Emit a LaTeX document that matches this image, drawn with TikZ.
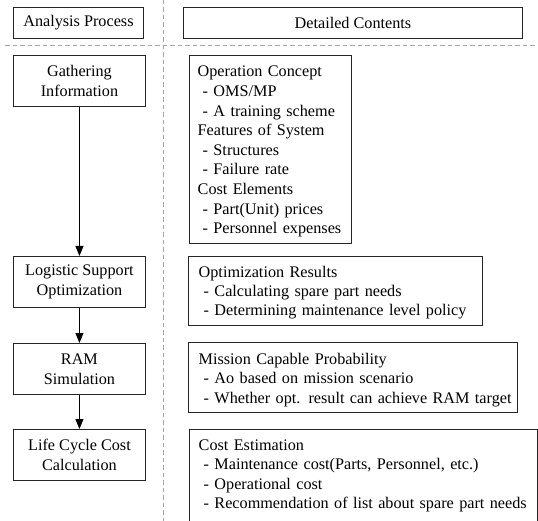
\documentclass[tikz,border=0pt]{standalone}
\usepackage{fontspec}
\setmainfont{Liberation Serif}
\usetikzlibrary{arrows.meta}
\newcommand\dashind{\hspace*{5pt}}
\begin{document}
\begin{tikzpicture}[x=1pt,y=-1pt,
  box/.style={draw=black!85, line width=0.9pt, inner sep=0pt, anchor=north west,
    align=center, font=\fontsize{16.2}{19.6}\selectfont},
  txt/.style={anchor=base west, inner sep=0pt, text width=335pt, align=left,
    font=\fontsize{16.2}{19.6}\selectfont},
  sep/.style={draw=black!35, line width=0.8pt, dash pattern=on 4.5pt off 3pt},
  arr/.style={draw=black, line width=0.9pt, -{Triangle[width=8pt,length=10pt]}}]
\useasboundingbox (0,0) rectangle (538,521);
\begin{scope}
\clip (0,0) rectangle (538,521);
% separators
\coordinate (vt) at (163,0);
\coordinate (vb) at (163,521);
\coordinate (hl) at (5,45);
\coordinate (hr) at (538,45);
\draw[sep] (vt) -- (vb);
\draw[sep] (hl) -- (hr);
% headers
\node[box, minimum width=130pt, minimum height=31pt] (hA) at (13,7) {Analysis Process};
\node[box, minimum width=339pt, minimum height=31pt] (hD) at (183,7) {Detailed Contents};
% process boxes
\node[box, minimum width=132pt, minimum height=51pt] (g) at (13,55) {Gathering\\Information};
\node[box, minimum width=132pt, minimum height=51pt] (l) at (13,256) {Logistic Support\\Optimization};
\node[box, minimum width=132pt, minimum height=51pt] (r) at (13,343) {RAM\\Simulation};
\node[box, minimum width=132pt, minimum height=51pt] (c) at (13,429) {Life Cycle Cost\\Calculation};
\draw[arr] (g) -- (l);
\draw[arr] (l) -- (r);
\draw[arr] (r) -- (c);
% detail boxes
\node[box, minimum width=162pt, minimum height=188pt] (op) at (189,55) {};
\node[box, minimum width=294pt, minimum height=69pt] (opt) at (188,256) {};
\node[box, minimum width=329pt, minimum height=70pt] (mis) at (188,342) {};
\node[box, minimum width=348pt, minimum height=140pt] (cst) at (189,429) {};
\node[txt] (opT) at (197.5,77) {Operation Concept\\
\dashind- OMS/MP\\
\dashind- A training scheme\\
Features of System\\
\dashind- Structures\\
\dashind- Failure rate\\
Cost Elements\\
\dashind- Part(Unit) prices\\
\dashind- Personnel expenses};
\node[txt, font=\fontsize{16.2}{18.8}\selectfont] (optT) at (198.5,278) {Optimization Results\\
\dashind- Calculating spare part needs\\
\dashind- Determining maintenance level policy};
\node[txt] (misT) at (198.5,364) {Mission Capable Probability\\
\dashind- Ao based on mission scenario\\
\dashind- Whether opt. result can achieve RAM target};
\node[txt] (cstT) at (198.5,450) {Cost Estimation\\
\dashind- Maintenance cost(Parts, Personnel, etc.)\\
\dashind- Operational cost\\
\dashind- Recommendation of list about spare part needs};
\end{scope}
\end{tikzpicture}
\end{document}
